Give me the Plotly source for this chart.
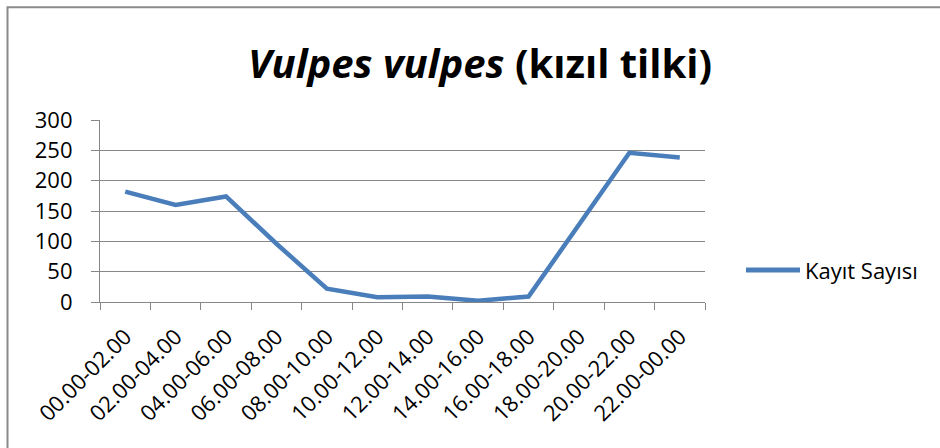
import plotly.graph_objects as go

# Observation counts of the red fox per two-hour window
time_slots = [
    "00.00-02.00", "02.00-04.00", "04.00-06.00", "06.00-08.00",
    "08.00-10.00", "10.00-12.00", "12.00-14.00", "14.00-16.00",
    "16.00-18.00", "18.00-20.00", "20.00-22.00", "22.00-00.00",
]
record_counts = [182, 160, 174, 96, 22, 8, 9, 2, 9, 126, 246, 238]
series_name = "Kayıt Sayısı"
y_ticks = [0, 50, 100, 150, 200, 250, 300]

LINE_BLUE = "#4a7ebb"
GRID_GREY = "#878787"
FONT = "Open Sans"

W, H = 940, 448
L, R, T, B = 100, 235, 119.5, 146
plot_w = W - L - R
plot_h = H - T - B


def px_to_paper_x(px):
    return (px - L) / plot_w


def px_to_paper_y(py):
    return (H - B - py) / plot_h


fig = go.Figure()
fig.add_trace(go.Scatter(
    x=time_slots,
    y=record_counts,
    mode="lines",
    name=series_name,
    line=dict(color=LINE_BLUE, width=4.5),
    showlegend=False,
))

fig.update_layout(
    width=W,
    height=H,
    margin=dict(l=L, r=R, t=T, b=B),
    paper_bgcolor="white",
    plot_bgcolor="white",
    font=dict(family=FONT, size=20, color="black"),
    title=dict(
        text="<b><i>Vulpes vulpes</i> (kızıl tilki)</b>",
        font=dict(family=FONT, size=40, color="black"),
        xref="container", x=480 / W, xanchor="center",
        yref="container", y=1 - 64 / H, yanchor="middle",
    ),
    xaxis=dict(
        type="category",
        range=[-0.5, len(time_slots) - 0.5],
        tickangle=-45,
        tickson="boundaries",
        ticks="outside",
        ticklen=7,
        tickwidth=1.2,
        tickcolor=GRID_GREY,
        showline=True,
        linecolor=GRID_GREY,
        linewidth=1.2,
        showgrid=False,
        ticklabelstandoff=12,
        tickfont=dict(family=FONT, size=22, color="black"),
        fixedrange=True,
    ),
    yaxis=dict(
        range=[0, 300],
        tickvals=y_ticks,
        ticks="outside",
        ticklen=8,
        tickwidth=1.2,
        tickcolor=GRID_GREY,
        showline=True,
        linecolor=GRID_GREY,
        linewidth=1.2,
        showgrid=True,
        gridcolor=GRID_GREY,
        gridwidth=1.2,
        zeroline=False,
        ticklabelstandoff=14,
        tickfont=dict(family=FONT, size=22, color="black"),
        fixedrange=True,
    ),
)

# Chart-area frame
fig.add_shape(
    type="rect", xref="paper", yref="paper",
    x0=px_to_paper_x(7.5), x1=px_to_paper_x(960),
    y0=px_to_paper_y(470), y1=px_to_paper_y(6.5),
    line=dict(color="#8a8a8a", width=2),
    fillcolor="rgba(0,0,0,0)",
    layer="below",
)

# Legend: line sample plus series name
fig.add_shape(
    type="line", xref="paper", yref="paper",
    x0=px_to_paper_x(746), x1=px_to_paper_x(800),
    y0=px_to_paper_y(270), y1=px_to_paper_y(270),
    line=dict(color=LINE_BLUE, width=5),
)
fig.add_annotation(
    text=series_name, xref="paper", yref="paper",
    x=px_to_paper_x(803), y=px_to_paper_y(270),
    xanchor="left", yanchor="middle", showarrow=False,
    font=dict(family=FONT, size=22, color="black"),
)

fig.write_html("out.html")
